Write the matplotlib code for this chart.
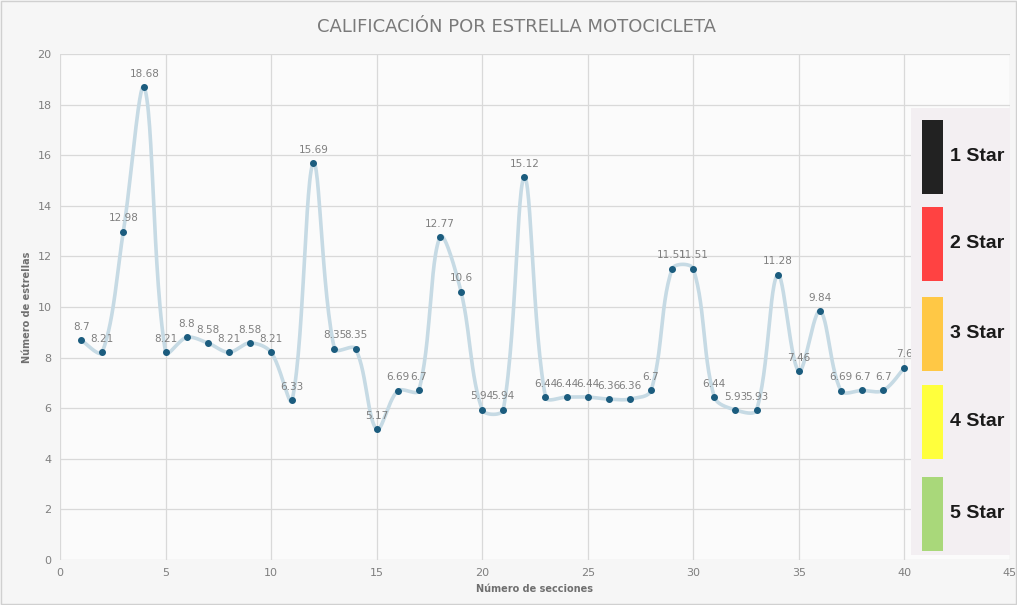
import numpy as np
import matplotlib.pyplot as plt
from matplotlib.patches import Rectangle

secciones = list(range(1, 41))
estrellas = [8.7, 8.21, 12.98, 18.68, 8.21, 8.8, 8.58, 8.21, 8.58, 8.21,
             6.33, 15.69, 8.35, 8.35, 5.17, 6.69, 6.7, 12.77, 10.6, 5.94,
             5.94, 15.12, 6.44, 6.44, 6.44, 6.36, 6.36, 6.7, 11.51, 11.51,
             6.44, 5.93, 5.93, 11.28, 7.46, 9.84, 6.69, 6.7, 6.7, 7.6]
etiquetas = ["1 Star", "2 Star", "3 Star", "4 Star", "5 Star"]
colores = ["#222222", "#ff4242", "#ffc845", "#ffff3c", "#a9d87a"]


def suavizar(x, y, kx=21.1, ky=25.3, n=30):
    # bezier con tangentes proporcionales a la cuerda (parecido al suavizado de Excel)
    p = np.column_stack([np.asarray(x, float) * kx, np.asarray(y, float) * ky])
    m = len(p)
    d = np.linalg.norm(np.diff(p, axis=0), axis=1)
    tan = np.zeros_like(p)
    for i in range(m):
        a = p[max(i - 1, 0)]
        b = p[min(i + 1, m - 1)]
        tan[i] = b - a
    t = np.linspace(0, 1, n)[:, None]
    out = []
    for i in range(m - 1):
        dl = d[i - 1] if i > 0 else d[i]
        dr = d[i + 1] if i + 1 < m - 1 else d[i]
        c1 = p[i] + tan[i] * d[i] / (dl + d[i]) / 3
        c2 = p[i + 1] - tan[i + 1] * d[i] / (d[i] + dr) / 3
        b = (1 - t) ** 3 * p[i] + 3 * (1 - t) ** 2 * t * c1 + 3 * (1 - t) * t ** 2 * c2 + t ** 3 * p[i + 1]
        out.append(b)
    out = np.vstack(out)
    return out[:, 0] / kx, out[:, 1] / ky


fig = plt.figure(figsize=(10.17, 6.05), dpi=100)
fig.patch.set_facecolor("#f6f6f6")
ax = fig.add_axes([0.059, 0.0744, 0.934, 0.8363])
ax.set_facecolor("#fbfbfb")

sx, sy = suavizar(secciones, estrellas)
ax.plot(sx, sy, color="#c6dae4", lw=2.6, zorder=2)
ax.plot(secciones, estrellas, "o", color="#1b5c7e", ms=4, zorder=3)
for x, y in zip(secciones, estrellas):
    ax.annotate(f"{y:g}", (x, y), xytext=(0, 6), textcoords="offset points",
                ha="center", va="bottom", fontsize=7.5, color="#7f7f7f")

ax.set_xlim(0, 45)
ax.set_ylim(0, 20)
ax.set_xticks(range(0, 46, 5))
ax.set_yticks(range(0, 21, 2))
ax.grid(True, color="#d9d9d9", lw=0.9)
ax.set_axisbelow(True)
for s in ax.spines.values():
    s.set_visible(False)
ax.tick_params(length=0, labelsize=8, colors="#7f7f7f", pad=6)
ax.set_xlabel("Número de secciones", fontsize=7, fontweight="bold", color="#6f6f6f", labelpad=4)
ax.set_ylabel("Número de estrellas", fontsize=7, fontweight="bold", color="#6f6f6f", labelpad=4)
fig.text(0.508, 0.955, "CALIFICACIÓN POR ESTRELLA MOTOCICLETA", ha="center", va="center",
         fontsize=13, color="#7a7a7a")

# leyenda de estrellas (imagen pegada en el original)
W, H = 1017, 605
fig.patches.append(Rectangle((911 / W, 1 - 555 / H), 99 / W, 447 / H, transform=fig.transFigure,
                             facecolor="#f3eff2", edgecolor="none", zorder=5))
tops = [120, 207, 297, 385, 477]
for top, lab, col in zip(tops, etiquetas, colores):
    fig.patches.append(Rectangle((922 / W, 1 - (top + 74) / H), 21 / W, 74 / H, transform=fig.transFigure,
                                 facecolor=col, edgecolor="none", zorder=6))
    fig.text(950 / W, 1 - (top + 37) / H, lab, ha="left", va="center", fontsize=14,
             fontweight="bold", family=["Liberation Sans", "DejaVu Sans"],
             color="#1a1a1a", zorder=7)

fig.patches.append(Rectangle((0.001, 0.001), 0.998, 0.998, transform=fig.transFigure,
                             facecolor="none", edgecolor="#d0d0d0", lw=1))
fig.savefig("out.png", dpi=100, facecolor=fig.get_facecolor())
